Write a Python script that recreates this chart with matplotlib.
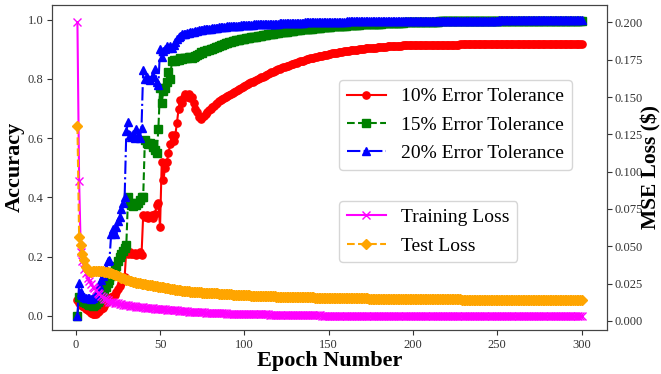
import matplotlib
matplotlib.use("Agg")
import matplotlib.pyplot as plt
import numpy as np

plt.rcParams['font.family'] = ['Liberation Serif', 'DejaVu Serif']

# ---------------- data ----------------
acc_10 = [
    0.054, 0.045, 0.040, 0.035, 0.030, 0.025, 0.020, 0.015, 0.010, 0.006,
    0.005, 0.008, 0.012, 0.018, 0.022, 0.028, 0.035, 0.045, 0.055, 0.062,
    0.065, 0.068, 0.072, 0.080, 0.090, 0.100, 0.110, 0.120, 0.130, 0.225,
    0.210, 0.215, 0.210, 0.208, 0.212, 0.205, 0.210, 0.215, 0.205, 0.340,
    0.335, 0.340, 0.330, 0.335, 0.340, 0.330, 0.345, 0.375, 0.380, 0.300,
    0.520, 0.460, 0.500, 0.520, 0.550, 0.580, 0.610, 0.590, 0.610, 0.650,
    0.700, 0.730, 0.720, 0.740, 0.750, 0.740, 0.750, 0.735, 0.740, 0.720,
    0.700, 0.690, 0.670, 0.665, 0.670, 0.675, 0.680, 0.690, 0.695, 0.700,
    0.705, 0.710, 0.715, 0.720, 0.725, 0.730, 0.733, 0.736, 0.740, 0.743,
    0.746, 0.750, 0.753, 0.756, 0.760, 0.763, 0.766, 0.770, 0.773, 0.776,
    0.779, 0.782, 0.785, 0.788, 0.791, 0.794, 0.797, 0.800, 0.803, 0.806,
    0.808, 0.811, 0.814, 0.816, 0.819, 0.822, 0.824, 0.827, 0.829, 0.832,
    0.834, 0.836, 0.839, 0.841, 0.843, 0.845, 0.847, 0.849, 0.851, 0.853,
    0.855, 0.857, 0.859, 0.861, 0.862, 0.864, 0.866, 0.867, 0.869, 0.870,
    0.872, 0.873, 0.875, 0.876, 0.877, 0.879, 0.880, 0.881, 0.882, 0.883,
    0.884, 0.886, 0.887, 0.888, 0.889, 0.890, 0.891, 0.892, 0.893, 0.894,
    0.894, 0.895, 0.896, 0.897, 0.898, 0.899, 0.899, 0.900, 0.901, 0.901,
    0.902, 0.903, 0.903, 0.904, 0.905, 0.905, 0.906, 0.906, 0.907, 0.907,
    0.908, 0.908, 0.909, 0.909, 0.910, 0.910, 0.910, 0.911, 0.911, 0.911,
    0.912, 0.912, 0.912, 0.913, 0.913, 0.913, 0.913, 0.914, 0.914, 0.914,
    0.914, 0.914, 0.914, 0.914, 0.915, 0.915, 0.915, 0.915, 0.915, 0.915,
    0.915, 0.915, 0.915, 0.916, 0.916, 0.916, 0.916, 0.916, 0.916, 0.916,
    0.916, 0.916, 0.916, 0.916, 0.916, 0.916, 0.916, 0.917, 0.917, 0.917,
    0.917, 0.917, 0.917, 0.917, 0.917, 0.917, 0.917, 0.917, 0.917, 0.917,
    0.917, 0.917, 0.917, 0.917, 0.917, 0.917, 0.917, 0.917, 0.917, 0.917,
    0.917, 0.917, 0.917, 0.917, 0.917, 0.918, 0.918, 0.918, 0.918, 0.918,
    0.918, 0.918, 0.918, 0.918, 0.918, 0.918, 0.918, 0.918, 0.918, 0.918,
    0.918, 0.918, 0.918, 0.918, 0.918, 0.918, 0.918, 0.918, 0.918, 0.918,
    0.918, 0.918, 0.918, 0.918, 0.918, 0.918, 0.918, 0.918, 0.918, 0.918,
    0.918, 0.918, 0.918, 0.918, 0.918, 0.918, 0.918, 0.918, 0.918, 0.918,
]

acc_15 = [
    0.000, 0.065, 0.055, 0.050, 0.048, 0.045, 0.040, 0.038, 0.036, 0.035,
    0.036, 0.040, 0.047, 0.055, 0.070, 0.080, 0.090, 0.098, 0.110, 0.120,
    0.135, 0.150, 0.160, 0.170, 0.185, 0.200, 0.210, 0.220, 0.230, 0.240,
    0.400, 0.380, 0.375, 0.370, 0.380, 0.375, 0.380, 0.390, 0.400, 0.400,
    0.595, 0.585, 0.580, 0.585, 0.580, 0.570, 0.560, 0.550, 0.630, 0.770,
    0.720, 0.760, 0.770, 0.790, 0.825, 0.800, 0.860, 0.865, 0.860, 0.865,
    0.865, 0.870, 0.868, 0.870, 0.872, 0.870, 0.873, 0.875, 0.872, 0.875,
    0.878, 0.880, 0.885, 0.890, 0.888, 0.893, 0.895, 0.897, 0.898, 0.900,
    0.902, 0.905, 0.907, 0.909, 0.911, 0.913, 0.915, 0.917, 0.920, 0.922,
    0.924, 0.926, 0.928, 0.929, 0.930, 0.932, 0.933, 0.934, 0.935, 0.936,
    0.937, 0.938, 0.939, 0.940, 0.941, 0.942, 0.943, 0.944, 0.945, 0.946,
    0.947, 0.948, 0.949, 0.950, 0.951, 0.952, 0.953, 0.954, 0.955, 0.956,
    0.957, 0.958, 0.958, 0.959, 0.960, 0.961, 0.962, 0.962, 0.963, 0.964,
    0.965, 0.965, 0.966, 0.967, 0.967, 0.968, 0.969, 0.969, 0.970, 0.970,
    0.971, 0.972, 0.972, 0.973, 0.973, 0.974, 0.974, 0.975, 0.975, 0.976,
    0.976, 0.977, 0.977, 0.978, 0.978, 0.979, 0.979, 0.979, 0.980, 0.980,
    0.981, 0.981, 0.981, 0.982, 0.982, 0.983, 0.983, 0.983, 0.984, 0.984,
    0.984, 0.985, 0.985, 0.985, 0.986, 0.986, 0.986, 0.987, 0.987, 0.987,
    0.987, 0.988, 0.988, 0.988, 0.988, 0.989, 0.989, 0.989, 0.989, 0.990,
    0.990, 0.990, 0.990, 0.990, 0.991, 0.991, 0.991, 0.991, 0.991, 0.992,
    0.992, 0.992, 0.992, 0.992, 0.992, 0.992, 0.993, 0.993, 0.993, 0.993,
    0.993, 0.993, 0.993, 0.993, 0.993, 0.994, 0.994, 0.994, 0.994, 0.994,
    0.994, 0.994, 0.994, 0.994, 0.994, 0.994, 0.994, 0.994, 0.994, 0.994,
    0.994, 0.994, 0.994, 0.995, 0.995, 0.995, 0.995, 0.995, 0.995, 0.995,
    0.995, 0.995, 0.995, 0.995, 0.995, 0.995, 0.995, 0.995, 0.995, 0.995,
    0.995, 0.995, 0.995, 0.995, 0.995, 0.996, 0.996, 0.996, 0.996, 0.996,
    0.996, 0.996, 0.996, 0.996, 0.996, 0.996, 0.996, 0.996, 0.996, 0.996,
    0.996, 0.996, 0.996, 0.996, 0.996, 0.997, 0.997, 0.997, 0.997, 0.997,
    0.997, 0.997, 0.997, 0.997, 0.997, 0.997, 0.997, 0.997, 0.997, 0.997,
    0.997, 0.997, 0.997, 0.997, 0.997, 0.997, 0.997, 0.997, 0.997, 0.997,
]

acc_20 = [
    0.000, 0.110, 0.080, 0.070, 0.065, 0.060, 0.062, 0.060, 0.058, 0.062,
    0.066, 0.075, 0.090, 0.105, 0.120, 0.135, 0.150, 0.160, 0.185, 0.190,
    0.275, 0.295, 0.275, 0.300, 0.320, 0.335, 0.360, 0.380, 0.400, 0.625,
    0.655, 0.610, 0.605, 0.615, 0.600, 0.630, 0.610, 0.600, 0.635, 0.830,
    0.800, 0.805, 0.800, 0.795, 0.805, 0.810, 0.835, 0.790, 0.780, 0.900,
    0.875, 0.895, 0.900, 0.910, 0.905, 0.910, 0.905, 0.915, 0.925, 0.935,
    0.940, 0.945, 0.950, 0.950, 0.952, 0.955, 0.955, 0.958, 0.960, 0.960,
    0.962, 0.963, 0.964, 0.965, 0.966, 0.967, 0.967, 0.968, 0.969, 0.970,
    0.971, 0.972, 0.972, 0.973, 0.974, 0.974, 0.975, 0.976, 0.976, 0.977,
    0.977, 0.978, 0.978, 0.979, 0.979, 0.980, 0.980, 0.981, 0.981, 0.982,
    0.982, 0.982, 0.983, 0.983, 0.983, 0.984, 0.984, 0.984, 0.985, 0.985,
    0.985, 0.985, 0.986, 0.986, 0.986, 0.986, 0.987, 0.987, 0.987, 0.987,
    0.988, 0.988, 0.988, 0.988, 0.988, 0.989, 0.989, 0.989, 0.989, 0.989,
    0.990, 0.990, 0.990, 0.990, 0.990, 0.991, 0.991, 0.991, 0.991, 0.991,
    0.991, 0.992, 0.992, 0.992, 0.992, 0.992, 0.992, 0.993, 0.993, 0.993,
    0.993, 0.993, 0.993, 0.993, 0.993, 0.993, 0.993, 0.993, 0.993, 0.993,
    0.994, 0.994, 0.994, 0.994, 0.994, 0.994, 0.994, 0.994, 0.994, 0.994,
    0.994, 0.994, 0.994, 0.994, 0.994, 0.995, 0.995, 0.995, 0.995, 0.995,
    0.995, 0.995, 0.995, 0.995, 0.995, 0.995, 0.995, 0.995, 0.995, 0.995,
    0.996, 0.996, 0.996, 0.996, 0.996, 0.996, 0.996, 0.996, 0.996, 0.996,
    0.996, 0.996, 0.996, 0.996, 0.996, 0.996, 0.996, 0.996, 0.996, 0.996,
    0.997, 0.997, 0.997, 0.997, 0.997, 0.997, 0.997, 0.997, 0.997, 0.997,
    0.997, 0.997, 0.997, 0.997, 0.997, 0.997, 0.997, 0.997, 0.997, 0.997,
    0.997, 0.997, 0.997, 0.997, 0.997, 0.997, 0.997, 0.997, 0.997, 0.997,
    0.997, 0.997, 0.997, 0.997, 0.997, 0.997, 0.997, 0.997, 0.997, 0.997,
    0.998, 0.998, 0.998, 0.998, 0.998, 0.998, 0.998, 0.998, 0.998, 0.998,
    0.998, 0.998, 0.998, 0.998, 0.998, 0.998, 0.998, 0.998, 0.998, 0.998,
    0.998, 0.998, 0.998, 0.998, 0.998, 0.998, 0.998, 0.998, 0.998, 0.998,
    0.999, 0.999, 0.999, 0.999, 0.999, 0.999, 0.999, 0.999, 0.999, 0.999,
    0.999, 0.999, 0.999, 0.999, 0.999, 0.999, 0.999, 0.999, 0.999, 0.999,
]

train_loss = [
    0.2000, 0.0940, 0.0460, 0.0400, 0.0350, 0.0320, 0.0290, 0.0270, 0.0250, 0.0230,
    0.0220, 0.0210, 0.0190, 0.0180, 0.0170, 0.0160, 0.0150, 0.0145, 0.0140, 0.0130,
    0.0128, 0.0125, 0.0122, 0.0120, 0.0118, 0.0115, 0.0112, 0.0110, 0.0108, 0.0106,
    0.0104, 0.0102, 0.0100, 0.0099, 0.0097, 0.0096, 0.0094, 0.0093, 0.0092, 0.0090,
    0.0089, 0.0088, 0.0087, 0.0086, 0.0085, 0.0084, 0.0083, 0.0082, 0.0081, 0.0080,
    0.0079, 0.0078, 0.0077, 0.0076, 0.0075, 0.0074, 0.0073, 0.0072, 0.0071, 0.0070,
    0.0069, 0.0068, 0.0067, 0.0066, 0.0065, 0.0064, 0.0063, 0.0063, 0.0062, 0.0061,
    0.0060, 0.0059, 0.0059, 0.0058, 0.0057, 0.0057, 0.0056, 0.0055, 0.0055, 0.0054,
    0.0054, 0.0053, 0.0053, 0.0052, 0.0052, 0.0051, 0.0051, 0.0050, 0.0050, 0.0049,
    0.0049, 0.0049, 0.0048, 0.0048, 0.0048, 0.0047, 0.0047, 0.0047, 0.0046, 0.0046,
    0.0046, 0.0046, 0.0045, 0.0045, 0.0045, 0.0045, 0.0044, 0.0044, 0.0044, 0.0044,
    0.0043, 0.0043, 0.0043, 0.0043, 0.0042, 0.0042, 0.0042, 0.0042, 0.0042, 0.0041,
    0.0041, 0.0041, 0.0041, 0.0040, 0.0040, 0.0040, 0.0040, 0.0040, 0.0039, 0.0039,
    0.0039, 0.0039, 0.0039, 0.0038, 0.0038, 0.0038, 0.0038, 0.0038, 0.0038, 0.0037,
    0.0037, 0.0037, 0.0037, 0.0037, 0.0037, 0.0036, 0.0036, 0.0036, 0.0036, 0.0036,
    0.0036, 0.0036, 0.0036, 0.0035, 0.0035, 0.0035, 0.0035, 0.0035, 0.0035, 0.0035,
    0.0035, 0.0035, 0.0035, 0.0035, 0.0034, 0.0034, 0.0034, 0.0034, 0.0034, 0.0034,
    0.0034, 0.0034, 0.0034, 0.0034, 0.0034, 0.0034, 0.0034, 0.0034, 0.0034, 0.0033,
    0.0033, 0.0033, 0.0033, 0.0033, 0.0033, 0.0033, 0.0033, 0.0033, 0.0033, 0.0033,
    0.0033, 0.0033, 0.0033, 0.0033, 0.0033, 0.0033, 0.0033, 0.0033, 0.0033, 0.0033,
    0.0033, 0.0033, 0.0032, 0.0032, 0.0032, 0.0032, 0.0032, 0.0032, 0.0032, 0.0032,
    0.0032, 0.0032, 0.0032, 0.0032, 0.0032, 0.0032, 0.0032, 0.0032, 0.0032, 0.0032,
    0.0032, 0.0032, 0.0032, 0.0032, 0.0032, 0.0032, 0.0032, 0.0032, 0.0032, 0.0032,
    0.0031, 0.0031, 0.0031, 0.0031, 0.0031, 0.0031, 0.0031, 0.0031, 0.0031, 0.0031,
    0.0031, 0.0031, 0.0031, 0.0031, 0.0031, 0.0031, 0.0031, 0.0031, 0.0031, 0.0031,
    0.0031, 0.0031, 0.0031, 0.0031, 0.0031, 0.0031, 0.0031, 0.0031, 0.0031, 0.0031,
    0.0030, 0.0030, 0.0030, 0.0030, 0.0030, 0.0030, 0.0030, 0.0030, 0.0030, 0.0030,
    0.0030, 0.0030, 0.0030, 0.0030, 0.0030, 0.0030, 0.0030, 0.0030, 0.0030, 0.0030,
    0.0030, 0.0030, 0.0030, 0.0030, 0.0030, 0.0030, 0.0030, 0.0030, 0.0030, 0.0030,
    0.0030, 0.0030, 0.0030, 0.0030, 0.0030, 0.0030, 0.0030, 0.0030, 0.0030, 0.0030,
]

test_loss = [
    0.1304, 0.0564, 0.0510, 0.0450, 0.0410, 0.0360, 0.0340, 0.0332, 0.0330, 0.0332,
    0.0334, 0.0333, 0.0335, 0.0333, 0.0332, 0.0333, 0.0330, 0.0328, 0.0325, 0.0322,
    0.0318, 0.0314, 0.0310, 0.0305, 0.0300, 0.0295, 0.0290, 0.0285, 0.0280, 0.0276,
    0.0272, 0.0268, 0.0265, 0.0262, 0.0259, 0.0256, 0.0254, 0.0252, 0.0250, 0.0248,
    0.0246, 0.0244, 0.0242, 0.0240, 0.0238, 0.0236, 0.0234, 0.0232, 0.0230, 0.0228,
    0.0226, 0.0224, 0.0222, 0.0220, 0.0218, 0.0216, 0.0214, 0.0212, 0.0210, 0.0208,
    0.0206, 0.0205, 0.0203, 0.0202, 0.0200, 0.0199, 0.0198, 0.0197, 0.0196, 0.0195,
    0.0194, 0.0193, 0.0192, 0.0191, 0.0190, 0.0190, 0.0189, 0.0188, 0.0188, 0.0187,
    0.0186, 0.0185, 0.0184, 0.0184, 0.0183, 0.0182, 0.0181, 0.0180, 0.0180, 0.0179,
    0.0178, 0.0178, 0.0177, 0.0176, 0.0176, 0.0175, 0.0174, 0.0174, 0.0173, 0.0172,
    0.0172, 0.0171, 0.0171, 0.0170, 0.0170, 0.0169, 0.0169, 0.0168, 0.0168, 0.0167,
    0.0167, 0.0166, 0.0166, 0.0165, 0.0165, 0.0164, 0.0164, 0.0164, 0.0163, 0.0163,
    0.0163, 0.0162, 0.0162, 0.0162, 0.0161, 0.0161, 0.0161, 0.0160, 0.0160, 0.0160,
    0.0159, 0.0159, 0.0159, 0.0158, 0.0158, 0.0158, 0.0158, 0.0157, 0.0157, 0.0157,
    0.0157, 0.0156, 0.0156, 0.0156, 0.0156, 0.0156, 0.0155, 0.0155, 0.0155, 0.0155,
    0.0155, 0.0155, 0.0154, 0.0154, 0.0154, 0.0154, 0.0154, 0.0153, 0.0153, 0.0153,
    0.0153, 0.0153, 0.0152, 0.0152, 0.0152, 0.0152, 0.0152, 0.0151, 0.0151, 0.0151,
    0.0151, 0.0151, 0.0151, 0.0150, 0.0150, 0.0150, 0.0150, 0.0150, 0.0150, 0.0149,
    0.0149, 0.0149, 0.0149, 0.0149, 0.0149, 0.0149, 0.0148, 0.0148, 0.0148, 0.0148,
    0.0148, 0.0148, 0.0148, 0.0148, 0.0147, 0.0147, 0.0147, 0.0147, 0.0147, 0.0147,
    0.0147, 0.0147, 0.0146, 0.0146, 0.0146, 0.0146, 0.0146, 0.0146, 0.0146, 0.0146,
    0.0145, 0.0145, 0.0145, 0.0145, 0.0145, 0.0145, 0.0145, 0.0145, 0.0145, 0.0144,
    0.0144, 0.0144, 0.0144, 0.0144, 0.0144, 0.0144, 0.0144, 0.0144, 0.0143, 0.0143,
    0.0143, 0.0143, 0.0143, 0.0143, 0.0143, 0.0143, 0.0143, 0.0142, 0.0142, 0.0142,
    0.0142, 0.0142, 0.0142, 0.0142, 0.0142, 0.0142, 0.0141, 0.0141, 0.0141, 0.0141,
    0.0141, 0.0141, 0.0141, 0.0141, 0.0141, 0.0141, 0.0140, 0.0140, 0.0140, 0.0140,
    0.0140, 0.0140, 0.0140, 0.0140, 0.0140, 0.0140, 0.0140, 0.0140, 0.0139, 0.0139,
    0.0139, 0.0139, 0.0139, 0.0139, 0.0139, 0.0139, 0.0139, 0.0139, 0.0139, 0.0139,
    0.0139, 0.0139, 0.0139, 0.0139, 0.0139, 0.0139, 0.0139, 0.0139, 0.0139, 0.0139,
    0.0139, 0.0139, 0.0139, 0.0139, 0.0139, 0.0139, 0.0139, 0.0139, 0.0139, 0.0139,
]

acc_labels = ['10% Error Tolerance', '15% Error Tolerance', '20% Error Tolerance']
loss_labels = ['Training Loss', 'Test Loss']

# ---------------- figure ----------------
fig = plt.figure(figsize=(6.61, 3.74), dpi=100)
ax = fig.add_axes([0.079, 0.118, 0.839, 0.869])
ax2 = ax.twinx()

ms = 5.2
def ep(v):
    return np.arange(1, len(v) + 1)

l1, = ax.plot(ep(acc_10), acc_10, color='red', linestyle='-', marker='o', ms=ms, lw=1.5)
l2, = ax.plot(ep(acc_15), acc_15, color='green', linestyle='--', marker='s', ms=ms, lw=1.5)
l3, = ax.plot(ep(acc_20), acc_20, color='blue', linestyle='-.', marker='^', ms=ms + 0.5, lw=1.5)
l4, = ax2.plot(ep(train_loss), train_loss, color='magenta', linestyle='-', marker='x', ms=ms, lw=1.5)
l5, = ax2.plot(ep(test_loss), test_loss, color='orange', linestyle='--', marker='D', ms=ms, lw=1.5)

ax.set_ylim(-0.047, 1.05)
ax2.set_ylim(-0.006, 0.2118)
ax.set_yticks([0.0, 0.2, 0.4, 0.6, 0.8, 1.0])
ax2.set_yticks([0.000, 0.025, 0.050, 0.075, 0.100, 0.125, 0.150, 0.175, 0.200])
ax.set_xticks([0, 50, 100, 150, 200, 250, 300])

for a in (ax, ax2):
    a.tick_params(labelsize=9, colors='#333333', pad=3)
    for s in a.spines.values():
        s.set_color('#444444')
ax2.tick_params(axis='y', pad=2)

ax.set_xlabel('Epoch Number', fontsize=16, fontweight='bold', labelpad=0)
ax.set_ylabel('Accuracy', fontsize=16, fontweight='bold', labelpad=2)
ax2.set_ylabel('MSE Loss ($)', fontsize=15.5, fontweight='bold', labelpad=-1)

leg1 = ax2.legend([l1, l2, l3], acc_labels, loc='upper left',
                  bbox_to_anchor=(0.517, 0.769), fontsize=14,
                  borderaxespad=0, labelspacing=0.55)
ax2.add_artist(leg1)
ax2.legend([l4, l5], loss_labels, loc='upper left',
           bbox_to_anchor=(0.517, 0.397), fontsize=14,
           borderaxespad=0, labelspacing=0.55)

fig.savefig('out.png', dpi=100)
